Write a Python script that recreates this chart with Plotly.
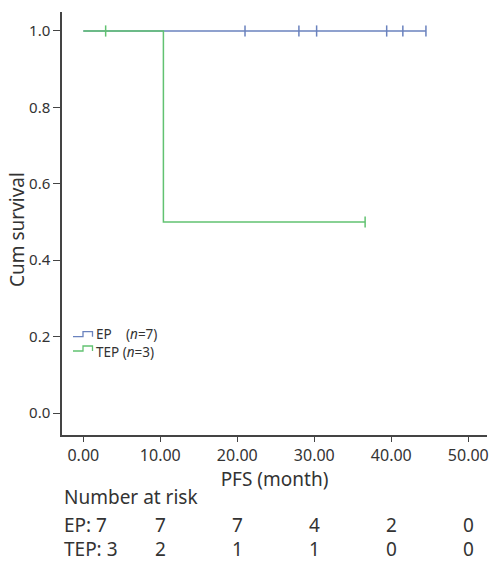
import plotly.graph_objects as go

# ---- data ----
ep_times = [0, 44.5]
ep_surv = [1.0, 1.0]
ep_censor_t = [21.0, 28.0, 30.3, 39.4, 41.5, 44.5]
ep_censor_s = [1.0, 1.0, 1.0, 1.0, 1.0, 1.0]

tep_times = [0, 10.4, 36.6]
tep_surv = [1.0, 0.5, 0.5]
tep_censor_t = [2.9, 36.6]
tep_censor_s = [1.0, 0.5]

risk_times = [0, 10, 20, 30, 40, 50]
ep_risk = [7, 7, 7, 4, 2, 0]
tep_risk = [3, 2, 1, 1, 0, 0]

x_ticks = [0, 10, 20, 30, 40, 50]
y_ticks = [0.0, 0.2, 0.4, 0.6, 0.8, 1.0]

BLUE = "#6a82be"
GREEN = "#62c271"
AX = "#444444"
TXT = "#333333"
FONT = "Noto Sans"

W, H = 496, 561
L, R, T, B = 62, 9, 12, 126
PW, PH = W - L - R, H - T - B

def px(x):
    return (x - L) / PW

def py(y):
    return (T + PH - y) / PH

fig = go.Figure()
fig.add_trace(go.Scatter(x=ep_times, y=ep_surv, mode="lines", line=dict(color=BLUE, width=1.5, shape="hv"),
                         showlegend=False, hoverinfo="skip"))
fig.add_trace(go.Scatter(x=ep_censor_t, y=ep_censor_s, mode="markers",
                         marker=dict(symbol="line-ns", size=8, line=dict(color=BLUE, width=1.5)),
                         showlegend=False))
fig.add_trace(go.Scatter(x=tep_times, y=tep_surv, mode="lines", line=dict(color=GREEN, width=1.5, shape="hv"),
                         showlegend=False, hoverinfo="skip"))
fig.add_trace(go.Scatter(x=tep_censor_t, y=tep_censor_s, mode="markers",
                         marker=dict(symbol="line-ns", size=8, line=dict(color=GREEN, width=1.5)),
                         showlegend=False))

fig.update_layout(
    width=W, height=H,
    margin=dict(l=L, r=R, t=T, b=B),
    paper_bgcolor="white", plot_bgcolor="white",
    font=dict(family=FONT, size=16, color=TXT),
    xaxis=dict(range=[-2.77, 52.43], tickvals=x_ticks, tickformat=".2f",
               showline=True, linecolor=AX, linewidth=1.5, showgrid=False, zeroline=False,
               ticks="outside", ticklen=5, tickwidth=1.2, tickcolor=AX,
               tickfont=dict(size=16), automargin=False,
               title=dict(text="PFS (month)", standoff=0, font=dict(size=19))),
    yaxis=dict(range=[-0.0576, 1.0497], tickvals=y_ticks, tickformat=".1f",
               showline=True, linecolor=AX, linewidth=1.5, showgrid=False, zeroline=False,
               ticks="outside", ticklen=7, tickwidth=1.2, tickcolor=AX,
               tickfont=dict(size=15), automargin=False),
)

ann = []
# y-axis title
ann.append(dict(text="Cum survival", xref="paper", yref="paper", x=px(17), y=py(230),
                xanchor="center", yanchor="middle", textangle=-90, showarrow=False,
                font=dict(size=19)))

# number at risk table
ann.append(dict(text="Number at risk", xref="paper", yref="paper", x=px(62), y=py(497),
                xanchor="left", yanchor="middle", showarrow=False, font=dict(size=19)))
rows = [("EP", ep_risk, 525), ("TEP", tep_risk, 549)]
for name, vals, yy in rows:
    ann.append(dict(text=f"{name}: {vals[0]}", xref="paper", yref="paper", x=px(62), y=py(yy),
                    xanchor="left", yanchor="middle", showarrow=False, font=dict(size=19)))
    for t, v in zip(risk_times[1:], vals[1:]):
        ann.append(dict(text=str(v), xref="x", yref="paper", x=t, y=py(yy),
                        xanchor="center", yanchor="middle", showarrow=False, font=dict(size=19)))

# legend
LF = 13.5
ann.append(dict(text="EP", xref="paper", yref="paper", x=px(94), y=py(334),
                xanchor="left", yanchor="middle", showarrow=False, font=dict(size=LF)))
ann.append(dict(text="(<i>n</i>=7)", xref="paper", yref="paper", x=px(124), y=py(334),
                xanchor="left", yanchor="middle", showarrow=False, font=dict(size=LF)))
ann.append(dict(text="TEP (<i>n</i>=3)", xref="paper", yref="paper", x=px(94), y=py(352),
                xanchor="left", yanchor="middle", showarrow=False, font=dict(size=LF)))

shapes = []
for col, y0 in ((BLUE, 336.7), (GREEN, 351)):
    pts = [(73, y0), (83, y0), (83, y0 - 5), (92.5, y0 - 5), (92.5, y0)]
    path = "M " + " L ".join(f"{px(a):.5f},{py(b):.5f}" for a, b in pts)
    shapes.append(dict(type="path", xref="paper", yref="paper", path=path,
                       line=dict(color=col, width=1.3)))

fig.update_layout(annotations=ann, shapes=shapes)
fig.write_html("out.html")
